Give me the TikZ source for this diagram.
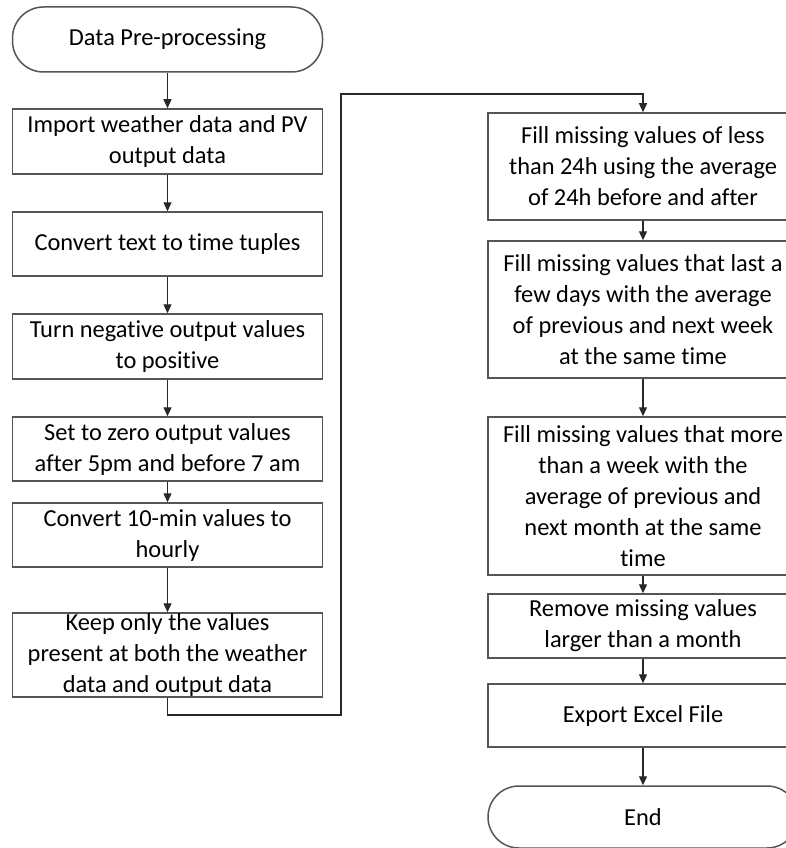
\documentclass[tikz,border=0pt]{standalone}
\usepackage{fontspec}
\setmainfont{Carlito}[Ligatures=NoCommon]
\usetikzlibrary{arrows.meta}
\definecolor{boxline}{RGB}{85,85,85}
\definecolor{conn}{RGB}{40,40,40}
\begin{document}
\begin{tikzpicture}[x=1pt,y=-1pt,
  box/.style={draw=boxline, line width=1.5pt, minimum width=310pt, inner sep=0pt, align=center,
    font=\fontsize{24.4}{31}\selectfont},
  term/.style={box, rounded corners=31pt},
  arr/.style={draw=conn, line width=1.3pt, -{Triangle[length=9pt,width=8pt]}}]
\useasboundingbox (0,0) rectangle (785,848);
\fill[white] (0,0) rectangle (785,848);
% left column
\node[term, minimum height=65pt] (start) at (167.5,39.5) {Data Pre-processing};
\node[box, minimum height=65pt] (b1) at (167.5,141.5) {Import weather data and PV\\output data};
\node[box, minimum height=64pt] (b2) at (167.5,244) {Convert text to time tuples};
\node[box, minimum height=65pt] (b3) at (167.5,346.5) {Turn negative output values\\to positive};
\node[box, minimum height=64pt] (b4) at (167.5,449) {Set to zero output values\\after 5pm and before 7 am};
\node[box, minimum height=64pt] (b5) at (167.5,535) {Convert 10-min values to\\hourly};
\node[box, minimum height=84pt] (b6) at (167.5,655) {Keep only the values\\present at both the weather\\data and output data};
% right column
\node[box, minimum height=107pt] (b7) at (643,166.5) {Fill missing values of less\\than 24h using the average\\of 24h before and after};
\node[box, minimum height=137pt] (b8) at (643,309.5) {Fill missing values that last a\\few days with the average\\of previous and next week\\at the same time};
\node[box, minimum height=158pt] (b9) at (643,496) {Fill missing values that more\\than a week with the\\average of previous and\\next month at the same\\time};
\node[box, minimum height=64pt] (b10) at (643,626) {Remove missing values\\larger than a month};
\node[box, minimum height=63pt] (b11) at (643,715.5) {Export Excel File};
\node[term, minimum height=62pt] (end) at (643,817) {End};
% connectors
\draw[arr] (start) -- (b1);
\draw[arr] (b1) -- (b2);
\draw[arr] (b2) -- (b3);
\draw[arr] (b3) -- (b4);
\draw[arr] (b4) -- (b5);
\draw[arr] (b5) -- (b6);
\coordinate (l1) at (167.5,715);
\coordinate (l2) at (341,715);
\coordinate (l3) at (341,94);
\coordinate (l4) at (643,94);
\draw[arr] (b6.south) -- (l1) -- (l2) -- (l3) -- (l4) -- (b7.north);
\draw[arr] (b7) -- (b8);
\draw[arr] (b8) -- (b9);
\draw[arr] (b9) -- (b10);
\draw[arr] (b10) -- (b11);
\draw[arr] (b11) -- (end);
\end{tikzpicture}
\end{document}
